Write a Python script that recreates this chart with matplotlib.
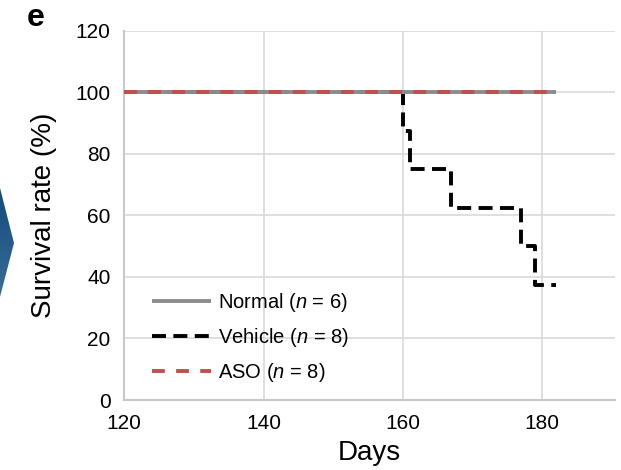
import numpy as np
import matplotlib
matplotlib.use("Agg")
import matplotlib.pyplot as plt
from matplotlib.patches import Polygon

plt.rcParams['font.family'] = ['Liberation Sans', 'DejaVu Sans']
plt.rcParams['mathtext.fontset'] = 'custom'
plt.rcParams['mathtext.rm'] = 'Liberation Sans'
plt.rcParams['mathtext.it'] = 'Liberation Sans:italic'

# Kaplan-Meier style survival curves (days vs % alive)
normal_days = [120, 182]
normal_surv = [100, 100]
aso_days = [120, 182]
aso_surv = [100, 100]
vehicle_days = [120, 160, 161, 167, 177, 179, 182]
vehicle_surv = [100, 87.5, 75, 62.5, 50, 37.5, 37.5]

labels = ['Normal ($\\it{n}$ = 6)', 'Vehicle ($\\it{n}$ = 8)', 'ASO ($\\it{n}$ = 8)']
x_ticks = [120, 140, 160, 180]
y_ticks = [0, 20, 40, 60, 80, 100, 120]

W, H = 621, 470
fig = plt.figure(figsize=(W / 100, H / 100), dpi=100)

# background layer in pixel coords for the arrow from the neighbouring panel
bg = fig.add_axes([0, 0, 1, 1], zorder=-1)
bg.set_xlim(0, W)
bg.set_ylim(H, 0)
bg.axis('off')
grad = np.linspace(0, 1, 256).reshape(-1, 1)
img = bg.imshow(grad, extent=[0, 16, 297, 188], aspect='auto',
                cmap=matplotlib.colors.LinearSegmentedColormap.from_list(
                    'chev', ['#134a7c', '#3b6d96']))
chev = Polygon([(0, 188), (14, 243), (0, 297)], closed=True,
               facecolor='none', edgecolor='none')
bg.add_patch(chev)
img.set_clip_path(chev)

ax = fig.add_axes([124.3 / W, 1 - 400 / H, (615 - 124.3) / W, (400 - 30.7) / H])

ax.plot(vehicle_days, vehicle_surv, drawstyle='steps-post', color='black',
        lw=2.8, dashes=(3.6, 1.9), zorder=2, label=labels[1])
ax.plot(normal_days, normal_surv, color='#8c8c8c', lw=2.8, zorder=3,
        solid_capstyle='butt', label=labels[0])
ax.plot(aso_days, aso_surv, color='#c0504d', lw=2.8, dashes=(3.3, 2.9),
        zorder=4, label=labels[2])

ax.set_xlim(120, 190.5)
ax.set_ylim(0, 120)
ax.set_xticks(x_ticks)
ax.set_yticks(y_ticks)
ax.grid(True, color='#d9d9d9', lw=1.2)
ax.set_axisbelow(True)
for s in ['top', 'right']:
    ax.spines[s].set_visible(False)
for s in ['left', 'bottom']:
    ax.spines[s].set_color('#c8c8c8')
    ax.spines[s].set_linewidth(1.5)
ax.tick_params(length=0, labelsize=15)
ax.tick_params(axis='y', pad=10)
ax.tick_params(axis='x', pad=10)

ax.set_xlabel('Days', fontsize=20, labelpad=5)
ax.set_ylabel('Survival rate (%)', fontsize=20, labelpad=13)

h, l = ax.get_legend_handles_labels()
order = [1, 0, 2]
ax.legend([h[i] for i in order], [l[i] for i in order], loc='lower left',
          bbox_to_anchor=(0.02, -0.005), frameon=False, fontsize=14.5,
          handlelength=2.9, handletextpad=0.35, labelspacing=0.6)

fig.text(27 / W, 1 - 26 / H, 'e', fontsize=23, fontweight='bold',
         ha='left', va='baseline')

fig.savefig('out.png', dpi=100)
